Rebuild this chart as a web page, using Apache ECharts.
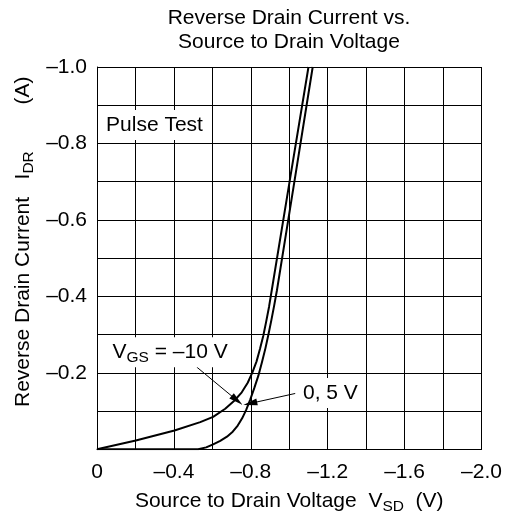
<!DOCTYPE html>
<html>
<head>
<meta charset="utf-8">
<script src="https://cdn.jsdelivr.net/npm/echarts@6/dist/echarts.min.js"></script>
<style>
  html, body { margin: 0; padding: 0; background: #fff; }
  #chart { width: 505px; height: 519px; }
</style>
</head>
<body>
<div id="chart"></div>
<script>
// V_GS = -10 V curve
var vsdNeg10 = [0, -0.202, -0.403, -0.537, -0.604, -0.667, -0.714, -0.753, -0.784, -0.809, -0.830, -0.848, -0.865, -0.880, -0.895, -0.909, -1.003, -1.100];
var idrNeg10 = [0, -0.023, -0.049, -0.071, -0.085, -0.106, -0.127, -0.149, -0.174, -0.202, -0.230, -0.263, -0.297, -0.334, -0.373, -0.416, -0.704, -1.0];

// V_GS = 0, 5 V curve
var vsdZero = [0, -0.526, -0.568, -0.604, -0.641, -0.676, -0.706, -0.732, -0.755, -0.776, -0.797, -0.818, -0.839, -0.858, -0.876, -0.892, -0.907, -0.922, -0.936, -1.028, -1.122];
var idrZero = [0, 0, -0.005, -0.013, -0.022, -0.033, -0.046, -0.062, -0.081, -0.103, -0.130, -0.160, -0.192, -0.228, -0.264, -0.301, -0.338, -0.377, -0.416, -0.704, -1.0];

// annotations: [x, y] in data units
var pulseTestPos = [-0.299, -0.848];
var vgsLabelPos = [-0.380, -0.254];
var zeroLabelPos = [-1.214, -0.147];
var arrowNeg10 = [[-0.519, -0.215], [-0.728, -0.128]];
var arrowZero = [[-1.031, -0.146], [-0.797, -0.120]];

var FONT = 'Liberation Sans';
var FS = 21;

function pairs(xs, ys) {
    var out = [];
    for (var i = 0; i < xs.length; i++) out.push([xs[i], ys[i]]);
    return out;
}

function fmt(v) {
    if (Math.abs(v) < 1e-9) return '0';
    return '\u2013' + Math.abs(v).toFixed(1);
}

var chart = echarts.init(document.getElementById('chart'), null, { renderer: 'canvas' });

var subRich = {
    s: { fontSize: 15.5, fontFamily: FONT, color: '#000', lineHeight: 16, verticalAlign: 'bottom' }
};

function noteLabel(text) {
    return {
        show: true,
        position: 'inside',
        formatter: text,
        color: '#000',
        fontSize: FS,
        fontFamily: FONT,
        lineHeight: 28,
        backgroundColor: '#fff',
        padding: [1, 4],
        rich: subRich
    };
}

function arrow(a) {
    return [
        { coord: a[0], symbol: 'none' },
        { coord: a[1], symbol: 'triangle', symbolSize: [7, 14] }
    ];
}

var option = {
    animation: false,
    backgroundColor: '#fff',
    grid: {
        left: 97, right: 23.5, top: 67, bottom: 69.7,
        containLabel: false,
        outerBoundsMode: 'none'
    },
    xAxis: {
        type: 'value',
        min: -2, max: 0, interval: 0.2,
        inverse: true,
        name: 'Source to Drain Voltage  V{s|SD}  (V)',
        nameLocation: 'middle',
        nameGap: 37,
        nameTextStyle: { color: '#000', fontSize: FS, fontFamily: FONT, lineHeight: 28, rich: subRich },
        axisLine: { show: true, onZero: false, lineStyle: { color: '#000', width: 1 } },
        axisTick: { show: false },
        splitLine: { show: true, lineStyle: { color: '#000', width: 1 } },
        axisLabel: {
            color: '#000', fontSize: FS, fontFamily: FONT, margin: 12,
            showMinLabel: true, showMaxLabel: true, hideOverlap: false,
            formatter: function (v) {
                return Math.round(v * 10) % 4 === 0 ? fmt(v) : '';
            }
        }
    },
    yAxis: {
        type: 'value',
        min: -1, max: 0, interval: 0.1,
        inverse: true,
        axisLine: { show: true, onZero: false, lineStyle: { color: '#000', width: 1 } },
        axisTick: { show: false },
        splitLine: { show: true, lineStyle: { color: '#000', width: 1 } },
        axisLabel: {
            color: '#000', fontSize: FS, fontFamily: FONT, margin: 10,
            showMinLabel: true, showMaxLabel: true, hideOverlap: false,
            formatter: function (v) {
                if (Math.abs(v) < 1e-9) return '';
                return Math.round(v * 10) % 2 === 0 ? fmt(v) : '';
            }
        }
    },
    graphic: [
        {
            type: 'text', x: 289, y: 6,
            style: {
                text: 'Reverse Drain Current vs.\nSource to Drain Voltage',
                fill: '#000', fontSize: FS, fontFamily: FONT,
                align: 'center', verticalAlign: 'top', lineHeight: 24
            }
        },
        {
            // y axis title, written bottom to top
            type: 'text', x: 23, y: 407, rotation: Math.PI / 2,
            style: {
                text: 'Reverse Drain Current   I{s|DR}        (A)',
                fill: '#000', fontSize: FS, fontFamily: FONT,
                align: 'left', verticalAlign: 'middle', lineHeight: 28,
                rich: { s: { fontSize: 15.5, fontFamily: FONT, fill: '#000', lineHeight: 16, verticalAlign: 'bottom' } }
            }
        }
    ],
    series: [
        {
            name: 'VGS -10 V',
            type: 'line',
            data: pairs(vsdNeg10, idrNeg10),
            showSymbol: false,
            lineStyle: { color: '#000', width: 2 },
            z: 3,
            markLine: {
                silent: true,
                symbol: ['none', 'triangle'],
                symbolSize: 10,
                lineStyle: { color: '#000', width: 1, type: 'solid' },
                itemStyle: { color: '#000' },
                label: { show: false },
                data: [arrow(arrowNeg10), arrow(arrowZero)]
            },
            markPoint: {
                silent: true,
                symbol: 'rect',
                symbolSize: 1,
                itemStyle: { color: 'rgba(0,0,0,0)' },
                data: [
                    { coord: pulseTestPos, label: noteLabel('Pulse Test') },
                    { coord: vgsLabelPos, label: noteLabel('V{s|GS} = \u201310 V') },
                    { coord: zeroLabelPos, label: noteLabel('0, 5 V') }
                ]
            }
        },
        {
            name: 'VGS 0, 5 V',
            type: 'line',
            data: pairs(vsdZero, idrZero),
            showSymbol: false,
            lineStyle: { color: '#000', width: 2 },
            z: 3
        }
    ]
};

chart.setOption(option);
</script>
</body>
</html>
